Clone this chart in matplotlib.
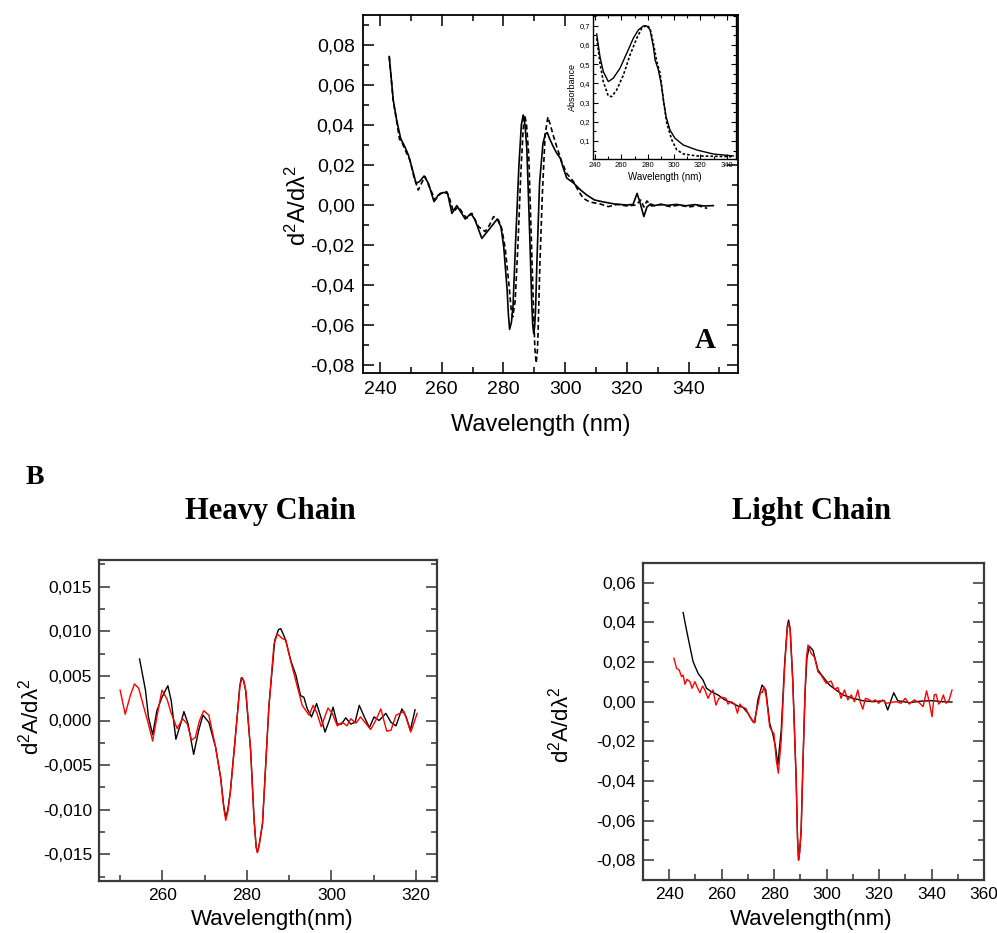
import matplotlib
matplotlib.use("Agg")
import matplotlib.pyplot as plt
from matplotlib.ticker import MultipleLocator, FuncFormatter, FixedLocator

plt.rcParams['font.family'] = ['Liberation Sans', 'DejaVu Sans']
plt.rcParams['mathtext.fontset'] = 'custom'
plt.rcParams['mathtext.rm'] = 'Liberation Sans'
plt.rcParams['mathtext.it'] = 'Liberation Sans:italic'

# ---------------- Panel A: second derivative spectra ----------------
a_solid_wl = [243.0, 244.3, 245.4, 246.7, 248.1, 249.2, 250.3, 251.7, 252.8, 254.3,
              255.7, 257.5, 258.9, 260.6, 261.9, 263.3, 264.9, 267.6, 269.5, 270.8,
              273.0, 275.2, 278.0, 279.2, 280.1, 281.2, 281.6, 282.0, 282.6, 283.1,
              283.9, 285.0, 285.8, 286.4, 287.0, 287.6, 288.5, 289.2, 289.5, 289.8,
              290.1, 290.4, 290.8, 291.7, 292.8, 293.6, 294.2, 295.0, 296.2, 297.3,
              298.4, 299.5, 300.5, 302.7, 305.0, 307.0, 309.5, 312.5, 316.0, 320.0,
              322.0, 323.3, 324.3, 325.5, 326.5, 327.7, 329.0, 331.0, 333.0, 336.0,
              339.0, 342.0, 345.0, 348.0]
a_solid_val = [0.0742, 0.0525, 0.0425, 0.0333, 0.0290, 0.0250, 0.0190, 0.0108, 0.0117, 0.0145,
               0.0108, 0.0017, 0.0050, 0.0063, 0.0058, -0.0042, -0.0003, -0.0070, -0.0042, -0.0075,
               -0.0167, -0.0125, -0.0070, -0.0110, -0.0210, -0.0425, -0.0545, -0.0622, -0.0585, -0.0508,
               -0.0200, 0.0192, 0.0400, 0.0450, 0.0400, 0.0275, -0.0142, -0.0500, -0.0600, -0.0642,
               -0.0610, -0.0530, -0.0310, 0.0108, 0.0308, 0.0355, 0.0362, 0.0330, 0.0290, 0.0258,
               0.0235, 0.0180, 0.0135, 0.0110, 0.0075, 0.0050, 0.0025, 0.0015, 0.0005, 0.0000,
               0.0003, 0.0058, 0.0010, -0.0058, -0.0010, 0.0005, -0.0003, 0.0004, -0.0002, 0.0003,
               -0.0004, 0.0002, -0.0005, -0.0003]

a_dash_wl = [243.0, 244.3, 245.4, 246.3, 247.0, 248.3, 249.7, 251.0, 252.4, 253.5,
             254.6, 256.0, 257.9, 259.5, 261.6, 262.6, 263.8, 265.4, 266.8, 268.1,
             269.8, 271.0, 271.9, 274.1, 275.5, 276.8, 278.4, 279.5, 280.6, 281.8,
             282.5, 283.0, 283.8, 284.7, 285.6, 286.4, 286.9, 287.5, 288.2, 289.0,
             289.8, 290.2, 290.6, 291.0, 291.2, 291.8, 292.6, 293.5, 294.4, 295.2,
             296.3, 297.3, 298.8, 300.5, 302.7, 304.3, 305.9, 308.0, 311.4, 314.0,
             317.0, 320.0, 323.0, 324.5, 325.5, 326.5, 328.0, 331.0, 334.0, 337.0,
             340.0, 343.0, 346.0]
a_dash_val = [0.0742, 0.0520, 0.0420, 0.0330, 0.0317, 0.0270, 0.0225, 0.0140, 0.0075, 0.0110,
              0.0142, 0.0090, 0.0025, 0.0058, 0.0067, 0.0030, -0.0033, -0.0008, -0.0040, -0.0067,
              -0.0042, -0.0080, -0.0108, -0.0133, -0.0100, -0.0058, -0.0075, -0.0120, -0.0220, -0.0400,
              -0.0520, -0.0560, -0.0480, -0.0200, 0.0150, 0.0380, 0.0450, 0.0400, 0.0250, -0.0150,
              -0.0550, -0.0720, -0.0790, -0.0730, -0.0650, -0.0300, 0.0050, 0.0350, 0.0440, 0.0400,
              0.0340, 0.0290, 0.0220, 0.0158, 0.0117, 0.0070, 0.0033, 0.0015, 0.0005, -0.0008,
              0.0003, -0.0005, 0.0000, 0.0025, -0.0010, 0.0020, -0.0005, 0.0002, -0.0008, 0.0000,
              -0.0010, -0.0003, -0.0017]

# ---------------- Panel A inset: absorbance spectra ----------------
abs_solid_wl = [241.3, 243.8, 246.3, 250.1, 253.9, 259.0, 264.1, 269.1, 272.9, 276.7,
                279.3, 281.8, 284.3, 285.6, 288.1, 290.6, 291.9, 293.9, 296.9, 300.7,
                307.0, 317.2, 329.8, 345.0]
abs_solid_val = [0.657, 0.539, 0.461, 0.409, 0.427, 0.479, 0.557, 0.635, 0.678, 0.699,
                 0.699, 0.678, 0.591, 0.522, 0.470, 0.383, 0.314, 0.227, 0.157, 0.114,
                 0.079, 0.053, 0.032, 0.022]

abs_dash_wl = [241.3, 243.8, 246.3, 250.1, 252.7, 256.5, 261.6, 266.6, 271.7, 275.5,
               279.3, 281.8, 284.3, 286.9, 289.4, 291.9, 294.5, 298.3, 302.1, 307.2,
               317.3, 345.0]
abs_dash_val = [0.635, 0.505, 0.409, 0.334, 0.331, 0.366, 0.444, 0.548, 0.635, 0.687,
                0.703, 0.687, 0.609, 0.513, 0.453, 0.314, 0.192, 0.105, 0.053, 0.032,
                0.022, 0.018]

# ---------------- Panel B: Heavy Chain ----------------
hc_black_wl = [254.6, 256.0, 256.7, 257.7, 258.7, 259.9, 261.3, 262.1, 263.2, 264.3,
               265.1, 266.1, 267.4, 268.6, 269.6, 271.0, 272.6, 273.8, 274.5, 275.0,
               275.5, 276.1, 277.7, 278.3, 278.7, 279.2, 279.7, 280.9, 281.7, 282.2,
               282.5, 282.9, 283.7, 285.2, 286.6, 287.5, 288.0, 288.5, 289.2, 290.4,
               291.6, 292.7, 293.5, 294.3, 295.3, 296.5, 297.5, 298.5, 299.5, 300.4,
               301.4, 302.4, 303.4, 304.6, 305.6, 306.6, 307.8, 309.0, 310.1, 311.3,
               312.9, 314.1, 315.3, 316.7, 317.7, 318.7, 319.8]
hc_black_val = [0.0069, 0.0034, 0.0004, -0.0016, 0.0011, 0.0026, 0.0039, 0.0022, -0.0021, -0.0004,
                0.0010, -0.0004, -0.0038, -0.0011, 0.0006, -0.0002, -0.0030, -0.0064, -0.0095, -0.0109,
                -0.0100, -0.0079, 0.0004, 0.0038, 0.0048, 0.0045, 0.0034, -0.0034, -0.0110, -0.0142,
                -0.0148, -0.0140, -0.0116, 0.0015, 0.0090, 0.0102, 0.0103, 0.0098, 0.0090, 0.0067,
                0.0051, 0.0028, 0.0026, 0.0013, 0.0004, 0.0019, 0.0004, -0.0013, 0.0000, 0.0015,
                -0.0004, -0.0004, 0.0003, -0.0004, -0.0002, 0.0017, 0.0004, -0.0008, 0.0004, 0.0000,
                0.0008, -0.0002, -0.0006, 0.0013, 0.0004, -0.0011, 0.0012]

hc_red_wl = [250.0, 251.2, 252.4, 253.4, 254.4, 255.6, 256.7, 257.7, 258.7, 259.9,
             261.1, 262.1, 263.5, 264.8, 265.9, 266.9, 267.8, 268.8, 269.8, 271.0,
             272.6, 273.8, 274.5, 275.0, 275.5, 276.1, 277.7, 278.4, 278.9, 279.3,
             279.8, 280.9, 281.7, 282.2, 282.5, 282.9, 283.7, 285.2, 286.4, 287.2,
             288.4, 289.2, 290.4, 292.0, 293.1, 294.7, 295.7, 296.6, 297.6, 299.2,
             300.2, 301.4, 302.6, 303.7, 304.6, 305.8, 306.9, 309.3, 310.5, 311.7,
             313.1, 314.1, 315.3, 317.2, 318.8, 320.3]
hc_red_val = [0.0034, 0.0007, 0.0028, 0.0041, 0.0036, 0.0015, -0.0004, -0.0023, 0.0004, 0.0034,
              0.0024, 0.0008, -0.0009, 0.0002, -0.0004, -0.0022, -0.0019, 0.0000, 0.0011, 0.0006,
              -0.0030, -0.0065, -0.0097, -0.0112, -0.0102, -0.0080, 0.0004, 0.0040, 0.0048, 0.0044,
              0.0032, -0.0035, -0.0112, -0.0142, -0.0148, -0.0140, -0.0115, 0.0015, 0.0085, 0.0097,
              0.0092, 0.0090, 0.0066, 0.0037, 0.0017, 0.0006, 0.0017, 0.0008, -0.0007, 0.0014,
              0.0008, -0.0006, -0.0002, -0.0006, 0.0002, -0.0003, 0.0004, -0.0010, 0.0000, 0.0013,
              -0.0012, -0.0011, 0.0006, 0.0010, -0.0013, 0.0008]

# ---------------- Panel B: Light Chain ----------------
lc_black_wl = [245.3, 246.6, 247.9, 249.1, 251.0, 252.9, 254.2, 256.1, 258.6, 261.2,
               263.7, 266.2, 268.1, 270.0, 271.9, 272.6, 273.8, 275.4, 276.8, 278.3,
               279.5, 280.5, 281.4, 282.7, 284.0, 285.0, 285.5, 286.1, 287.1, 288.4,
               288.9, 289.3, 289.7, 290.3, 291.0, 291.8, 292.5, 293.4, 294.8, 296.7,
               298.6, 301.1, 303.6, 306.2, 310.0, 313.8, 317.6, 322.0, 323.3, 324.6,
               325.6, 327.1, 331.5, 336.0, 340.4, 344.0, 347.8]
lc_black_val = [0.0450, 0.0361, 0.0277, 0.0202, 0.0143, 0.0109, 0.0068, 0.0050, 0.0034, 0.0009,
                -0.0005, -0.0022, -0.0028, -0.0058, -0.0101, -0.0106, 0.0009, 0.0084, 0.0059, -0.0109,
                -0.0163, -0.0227, -0.0319, -0.0143, 0.0193, 0.0380, 0.0412, 0.0370, 0.0109, -0.0394,
                -0.0680, -0.0797, -0.0760, -0.0650, -0.0300, 0.0050, 0.0220, 0.0280, 0.0260, 0.0160,
                0.0126, 0.0084, 0.0059, 0.0034, 0.0017, 0.0005, 0.0000, 0.0005, -0.0042, 0.0009,
                0.0045, 0.0005, -0.0005, 0.0003, 0.0005, 0.0000, -0.0002]

lc_red_wl = [241.8, 242.8, 243.8, 244.7, 245.3, 246.0, 246.8, 247.9, 248.7, 249.8,
             250.6, 251.7, 252.7, 253.6, 254.8, 255.7, 256.7, 257.8, 258.9, 260.3,
             261.6, 262.4, 263.7, 265.0, 266.0, 266.9, 267.9, 269.2, 270.7, 272.3,
             273.8, 274.8, 275.5, 276.1, 277.0, 278.3, 279.2, 279.9, 280.8, 281.6,
             282.7, 284.0, 285.0, 285.5, 286.1, 287.1, 288.4, 288.9, 289.3, 289.7,
             290.3, 291.0, 291.8, 292.3, 292.9, 294.1, 295.4, 296.7, 297.9, 299.8,
             301.7, 303.0, 304.3, 305.5, 306.8, 308.1, 309.4, 310.6, 311.9, 312.8,
             313.8, 314.8, 316.0, 317.3, 318.6, 319.8, 321.4, 322.7, 326.5, 328.4,
             330.0, 331.5, 333.4, 335.3, 336.8, 338.1, 339.1, 340.2, 341.0, 341.7,
             342.7, 343.6, 344.5, 345.5, 346.7, 347.8]
lc_red_val = [0.0219, 0.0168, 0.0160, 0.0126, 0.0134, 0.0088, 0.0113, 0.0101, 0.0068, 0.0101,
              0.0076, 0.0045, 0.0079, 0.0059, 0.0017, 0.0042, 0.0059, -0.0017, 0.0017, 0.0022,
              0.0017, -0.0012, 0.0000, -0.0012, -0.0058, -0.0012, -0.0028, -0.0034, -0.0076, -0.0106,
              -0.0017, 0.0050, 0.0045, 0.0076, 0.0025, -0.0126, -0.0151, -0.0160, -0.0294, -0.0361,
              -0.0193, 0.0176, 0.0370, 0.0395, 0.0360, 0.0100, -0.0400, -0.0690, -0.0800, -0.0765,
              -0.0640, -0.0300, 0.0060, 0.0220, 0.0286, 0.0244, 0.0224, 0.0151, 0.0134, 0.0093,
              0.0104, 0.0062, 0.0072, 0.0017, 0.0059, 0.0009, 0.0034, 0.0000, 0.0059, 0.0000,
              -0.0038, 0.0017, 0.0012, 0.0000, 0.0009, -0.0008, 0.0009, -0.0008, 0.0000, -0.0008,
              0.0017, -0.0012, 0.0009, -0.0005, -0.0025, 0.0055, 0.0000, -0.0076, 0.0034, 0.0038,
              -0.0012, 0.0000, 0.0034, -0.0008, 0.0009, 0.0059]

W, H = 997, 933
fig = plt.figure(figsize=(W / 100, H / 100), dpi=100)


def px_axes(left, top, right, bottom):
    return fig.add_axes([left / W, 1 - bottom / H, (right - left) / W, (bottom - top) / H])


def comma_fmt(nd):
    def f(v, pos):
        if abs(v) < 1e-12:
            v = 0.0
        return f"{v:.{nd}f}".replace('.', ',')
    return FuncFormatter(f)


ylab = r'd$^2$A/d$\mathrm{\lambda}^2$'

# ---- Panel A ----
axA = px_axes(363, 15, 738, 373)
axA.plot(a_solid_wl, a_solid_val, color='black', lw=1.2)
axA.plot(a_dash_wl, a_dash_val, color='black', lw=1.2, linestyle=(0, (3, 1.8)))
axA.set_xlim(234.5, 356)
axA.set_ylim(-0.084, 0.095)
axA.xaxis.set_major_locator(MultipleLocator(20))
axA.xaxis.set_minor_locator(MultipleLocator(10))
axA.yaxis.set_major_locator(MultipleLocator(0.02))
axA.yaxis.set_minor_locator(MultipleLocator(0.01))
axA.yaxis.set_major_formatter(comma_fmt(2))
axA.tick_params(which='both', direction='in', top=True, right=True, width=1.1, labelsize=14, pad=6)
axA.tick_params(which='major', length=8)
axA.tick_params(which='minor', length=4.5)
for s in axA.spines.values():
    s.set_linewidth(1.3)
fig.text(705 / W, 1 - 340 / H, 'A', family='Liberation Serif', weight='bold',
         fontsize=21, ha='center', va='center')
fig.text(298 / W, 1 - 205 / H, ylab, rotation=90, fontsize=17, ha='center', va='center')
fig.text(541 / W, 1 - 425 / H, 'Wavelength (nm)', fontsize=17, ha='center', va='center')

# ---- Inset ----
axI = px_axes(593, 15, 736, 159)
axI.plot(abs_solid_wl, abs_solid_val, color='black', lw=1.0)
axI.plot(abs_dash_wl, abs_dash_val, color='black', lw=1.2, linestyle=(0, (1.6, 1.2)))
axI.set_xlim(238.5, 347)
axI.set_ylim(0.006, 0.756)
axI.xaxis.set_major_locator(MultipleLocator(20))
axI.xaxis.set_minor_locator(MultipleLocator(10))
axI.yaxis.set_major_locator(FixedLocator([0.1, 0.2, 0.3, 0.4, 0.5, 0.6, 0.7]))
axI.yaxis.set_minor_locator(FixedLocator([0.05, 0.15, 0.25, 0.35, 0.45, 0.55, 0.65, 0.75]))
axI.yaxis.set_major_formatter(comma_fmt(1))
axI.tick_params(which='both', direction='in', top=True, right=True, width=0.8, labelsize=5.5, pad=2)
axI.tick_params(which='major', length=3.5)
axI.tick_params(which='minor', length=2)
for s in axI.spines.values():
    s.set_linewidth(1.0)
axI.set_xlabel('Wavelength (nm)', fontsize=7, labelpad=2)
axI.set_ylabel('Absorbance', fontsize=6.5, labelpad=2)

# ---- Panel B headings ----
fig.text(35 / W, 1 - 478 / H, 'B', family='Liberation Serif', weight='bold',
         fontsize=20, ha='center', va='center')
fig.text(270 / W, 1 - 512 / H, 'Heavy Chain', family='Liberation Serif', weight='bold',
         fontsize=22, ha='center', va='center')
fig.text(812 / W, 1 - 512 / H, 'Light Chain', family='Liberation Serif', weight='bold',
         fontsize=22, ha='center', va='center')


def style_b(ax):
    ax.tick_params(which='both', direction='in', top=False, right=True, width=1.1,
                   labelsize=12.5, pad=5, color='#333333')
    ax.tick_params(which='major', length=8)
    ax.tick_params(which='minor', length=4.5)
    for s in ax.spines.values():
        s.set_linewidth(1.6)
        s.set_color('#3a3a3a')


# ---- Heavy Chain ----
axH = px_axes(99, 560, 437, 881)
axH.plot(hc_black_wl, hc_black_val, color='black', lw=1.0)
axH.plot(hc_red_wl, hc_red_val, color='#ff0000', lw=1.0)
axH.set_xlim(245, 325)
axH.set_ylim(-0.018, 0.018)
axH.xaxis.set_major_locator(MultipleLocator(20))
axH.xaxis.set_minor_locator(MultipleLocator(10))
axH.yaxis.set_major_locator(MultipleLocator(0.005))
axH.yaxis.set_minor_locator(MultipleLocator(0.0025))
axH.yaxis.set_major_formatter(comma_fmt(3))
style_b(axH)
fig.text(31 / W, 1 - 717 / H, ylab, rotation=90, fontsize=16, ha='center', va='center')
fig.text(272 / W, 1 - 920 / H, 'Wavelength(nm)', fontsize=16, ha='center', va='center')

# ---- Light Chain ----
axL = px_axes(643, 563, 984, 880)
axL.plot(lc_black_wl, lc_black_val, color='black', lw=1.0)
axL.plot(lc_red_wl, lc_red_val, color='#ff0000', lw=1.0)
axL.set_xlim(230, 360)
axL.set_ylim(-0.09, 0.07)
axL.xaxis.set_major_locator(MultipleLocator(20))
axL.xaxis.set_minor_locator(MultipleLocator(10))
axL.yaxis.set_major_locator(MultipleLocator(0.02))
axL.yaxis.set_minor_locator(MultipleLocator(0.01))
axL.yaxis.set_major_formatter(comma_fmt(2))
axL.set_xticks([240, 260, 280, 300, 320, 340, 360])
style_b(axL)
fig.text(561 / W, 1 - 725 / H, ylab, rotation=90, fontsize=16, ha='center', va='center')
fig.text(811 / W, 1 - 919 / H, 'Wavelength(nm)', fontsize=16, ha='center', va='center')

fig.savefig('out.png', dpi=100)
